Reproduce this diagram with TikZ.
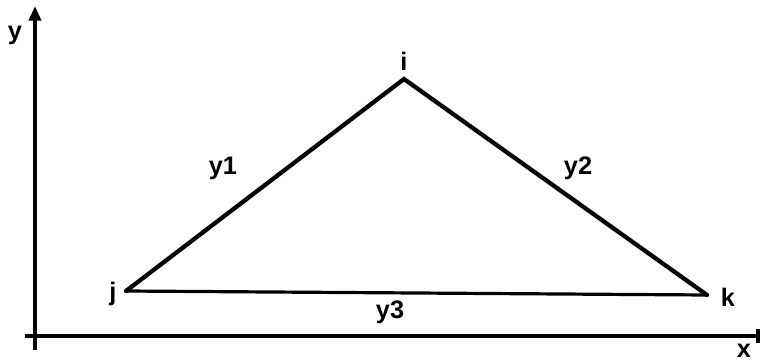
\documentclass[tikz,border=0pt]{standalone}
\usepackage{fontspec}
\setmainfont{Liberation Sans}
\usetikzlibrary{arrows.meta}
\begin{document}
\begin{tikzpicture}[x=0.75pt,y=-0.75pt,
  lbl/.style={inner sep=0pt,font=\fontsize{19}{21}\selectfont\bfseries},
  axis/.style={line width=3pt,-{Triangle[length=11pt,width=9pt]}},
  edge/.style={line width=3.2pt,line join=miter,line cap=round},
  base/.style={line width=2.4pt}]
\useasboundingbox (0,0) rectangle (760,361);
% axes
\coordinate (yb) at (35,350);
\coordinate (yt) at (35,6);
\coordinate (xl) at (25,336);
\coordinate (xr) at (760,336);
\draw[axis] (yb) -- (yt);
\draw[line width=3pt] (xl) -- (xr);
\draw[line width=2.4pt] (758,329) -- (758,343);
% vertices
\coordinate (i) at (404,79);
\coordinate (j) at (126,291);
\coordinate (k) at (707,295);
\draw[edge] (j) -- (i) -- (k);
\draw[base] (j) -- (k);
% labels
\node[lbl] (ly) at (15,35) {y};
\node[lbl] (lx) at (744,351) {x};
\node[lbl] (li) at (404,61) {i};
\node[lbl] (lj) at (113,294) {j};
\node[lbl] (lk) at (728,297) {k};
\node[lbl] (ly1) at (223,168) {y1};
\node[lbl] (ly2) at (578,168) {y2};
\node[lbl] (ly3) at (390,312) {y3};
\end{tikzpicture}
\end{document}
